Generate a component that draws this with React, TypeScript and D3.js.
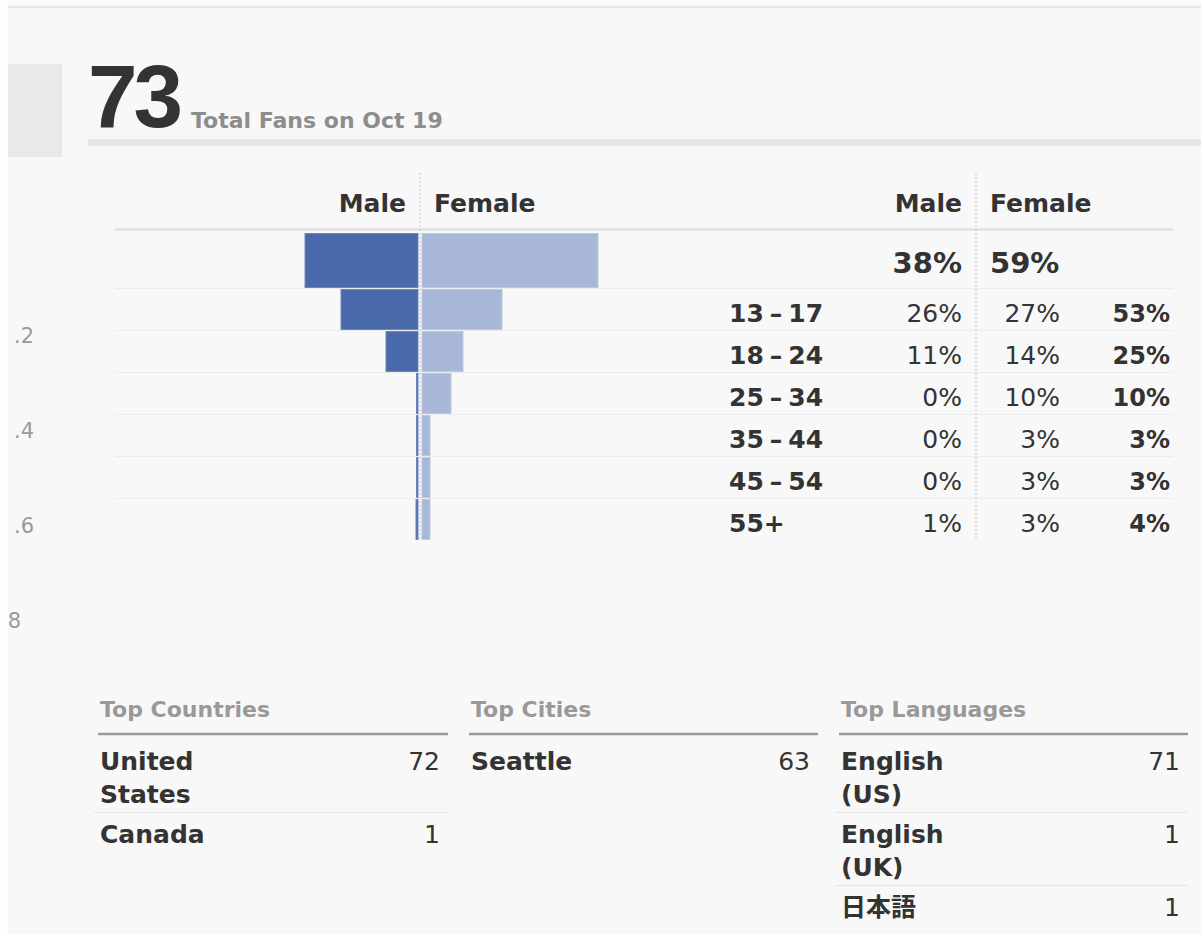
import React from 'react'
import * as d3 from 'd3'

// fan demographics
const totalFans = 73
const fansDate = 'Oct 19'
const genders = ['Male', 'Female']
const genderShare = [38, 59]
const ages = ['13–17', '18–24', '25–34', '35–44', '45–54', '55+']
const maleShare = [26, 11, 0, 0, 0, 1]
const femaleShare = [27, 14, 10, 3, 3, 3]
const ageShare = [53, 25, 10, 3, 3, 4]

const countries = ['United States', 'Canada']
const countryFans = [72, 1]
const cities = ['Seattle']
const cityFans = [63]
const languages = ['English (US)', 'English (UK)', '日本語']
const languageFans = [71, 1, 1]

// what is left visible of the neighbouring chart's tick labels at the left edge
const leftTicks = ['.2', '.4', '.6', '8']

const FONT = '"DejaVu Sans", "Noto Sans CJK JP", sans-serif'
const DARK = '#333'
const GREY = '#999'
const MALE = '#4a69ab'
const FEMALE = '#a8b6d7'

// "13–17" is drawn with a little air around the dash
const AgeLabel = ({ label, x, y }: { label: string, x: number, y: number }) => {
    const parts = label.split('–')
    return (
        <text x={x} y={y} fontSize={25} fontWeight="bold" fill={DARK}>
            {parts.length === 1 ? label : (
                <>
                    <tspan>{parts[0]}</tspan>
                    <tspan dx={6}>–</tspan>
                    <tspan dx={6}>{parts[1]}</tspan>
                </>
            )}
        </text>
    )
}

export default function App() {
    const width = 1201
    const height = 934

    const cx = 420 // pyramid axis
    const tableAxis = 976
    const lineLeft = 115
    const lineRight = 1173

    // 3px for each percent
    const xScale = d3.scaleLinear().domain([0, 100]).range([0, 300])
    const minBar = 2.5

    const yScale = d3.scaleBand<string>().domain(ages).range([288, 540]).padding(0)
    const totalTop = 230
    const totalBottom = 288

    const tickY = d3.scalePoint<string>().domain(leftTicks).range([343, 628])

    const bar = (side: number, top: number, h: number, v: number, key: string) => {
        const w = Math.max(xScale(v), minBar)
        const x = side < 0 ? cx - 1.5 - w : cx + 1.5
        return (
            <rect key={key} x={x + 0.5} y={top + 0.5} width={w - 1} height={h - 1}
                fill={side < 0 ? MALE : FEMALE}
                stroke={side < 0 ? '#6c87bd' : '#bdc8e2'} strokeWidth={1} />
        )
    }

    const lists = [
        { title: 'Top Countries', names: countries, values: countryFans, x0: 98, x1: 448 },
        { title: 'Top Cities', names: cities, values: cityFans, x0: 469, x1: 818 },
        { title: 'Top Languages', names: languages, values: languageFans, x0: 839, x1: 1188 },
    ]

    return (
        <div style={{ position: 'absolute', left: 0, top: 0 }}>
            <svg width={width} height={height} style={{ display: 'block' }} fontFamily={FONT}>
                <rect x={0} y={0} width={width} height={height} fill="#f8f8f8" />
                <rect x={0} y={0} width={width} height={6} fill="#fbfbfb" />
                <rect x={0} y={6} width={width} height={2} fill="#e6e6e6" />
                <rect x={0} y={0} width={8} height={height} fill="#fdfdfd" />

                {/* tick label remnants on the left */}
                {leftTicks.map((t, i) => (
                    <text key={t} x={i === leftTicks.length - 1 ? 21 : 34} y={tickY(t)} textAnchor="end"
                        fontSize={21} fill="#9a9a9a">{t}</text>
                ))}
                <rect x={8} y={64} width={54} height={93} fill="#e9e9e9" />

                {/* headline */}
                <text x={88} y={127} fontFamily='"Liberation Sans", Arial, sans-serif' fontWeight="bold"
                    fontSize={89} letterSpacing={-4} fill={DARK}>{totalFans}</text>
                <text x={191} y={128} fontSize={22} fontWeight="bold" fill="#8d8d8d">
                    {`Total Fans on ${fansDate}`}
                </text>
                <rect x={88} y={139} width={width - 88} height={7} fill="#e6e6e6" />

                {/* header line and row lines */}
                <line x1={lineLeft} x2={lineRight} y1={229.5} y2={229.5} stroke="#e0e0e0" strokeWidth={2.5} />
                {ages.map(a => (
                    <line key={a} x1={lineLeft} x2={lineRight} y1={(yScale(a) as number) + 0.5}
                        y2={(yScale(a) as number) + 0.5} stroke="#ebebeb" strokeWidth={1} />
                ))}

                {/* dotted axes */}
                <line x1={cx} x2={cx} y1={173} y2={540} stroke="#c4c4c4" strokeWidth={1} strokeDasharray="2,2" />
                <line x1={tableAxis} x2={tableAxis} y1={173} y2={540} stroke="#c4c4c4" strokeWidth={1} strokeDasharray="2,2" />

                {/* gender headers */}
                {[cx, tableAxis].map(ax => (
                    <g key={ax} fontSize={25} fontWeight="bold" fill={DARK}>
                        <text x={ax - 14} y={212} textAnchor="end">{genders[0]}</text>
                        <text x={ax + 14} y={212}>{genders[1]}</text>
                    </g>
                ))}

                {/* pyramid bars */}
                {bar(-1, totalTop + 3, totalBottom - totalTop - 3, genderShare[0], 'tm')}
                {bar(1, totalTop + 3, totalBottom - totalTop - 3, genderShare[1], 'tf')}
                {ages.map((a, i) => {
                    const top = (yScale(a) as number) + 1
                    const h = yScale.bandwidth() - 1
                    return (
                        <g key={a}>
                            {bar(-1, top, h, maleShare[i], 'm' + i)}
                            {bar(1, top, h, femaleShare[i], 'f' + i)}
                        </g>
                    )
                })}

                {/* table */}
                <text x={tableAxis - 14} y={273} textAnchor="end" fontSize={29} fontWeight="bold" fill={DARK}>
                    {genderShare[0]}%
                </text>
                <text x={tableAxis + 14} y={273} fontSize={29} fontWeight="bold" fill={DARK}>
                    {genderShare[1]}%
                </text>
                {ages.map((a, i) => {
                    const y = (yScale(a) as number) + yScale.bandwidth() - 8
                    return (
                        <g key={a} fill={DARK}>
                            <AgeLabel label={a} x={729} y={y} />
                            <text x={tableAxis - 14} y={y} textAnchor="end" fontSize={25}>{maleShare[i]}%</text>
                            <text x={1060} y={y} textAnchor="end" fontSize={25}>{femaleShare[i]}%</text>
                            <text x={1170} y={y} textAnchor="end" fontSize={24} fontWeight="bold">{ageShare[i]}%</text>
                        </g>
                    )
                })}

                {/* top lists */}
                {lists.map(l => {
                    let top = 734
                    return (
                        <g key={l.title}>
                            <text x={l.x0 + 2} y={717} fontSize={22} fontWeight="bold" fill={GREY}>{l.title}</text>
                            <line x1={l.x0} x2={l.x1} y1={734} y2={734} stroke="#999" strokeWidth={2.5} />
                            {l.names.map((n, i) => {
                                const words = n.split(' ')
                                const base = top + (i === 0 ? 36 : 31)
                                const bottom = base + (words.length - 1) * 33 + 9
                                const el = (
                                    <g key={n}>
                                        <text x={l.x0 + 2} y={base} fontSize={25} fontWeight="bold" fill={DARK}>
                                            {words.map((w, j) => (
                                                <tspan key={j} x={l.x0 + 2} y={base + j * 33}>{w}</tspan>
                                            ))}
                                        </text>
                                        <text x={l.x1 - 8} y={base} textAnchor="end" fontSize={25} fill={DARK}>{l.values[i]}</text>
                                        {i < l.names.length - 1 && (
                                            <line x1={l.x0 - 4} x2={l.x1} y1={bottom + 0.5} y2={bottom + 0.5}
                                                stroke="#e6e6e6" strokeWidth={1} />
                                        )}
                                    </g>
                                )
                                top = bottom
                                return el
                            })}
                        </g>
                    )
                })}
            </svg>
        </div>
    )
}
